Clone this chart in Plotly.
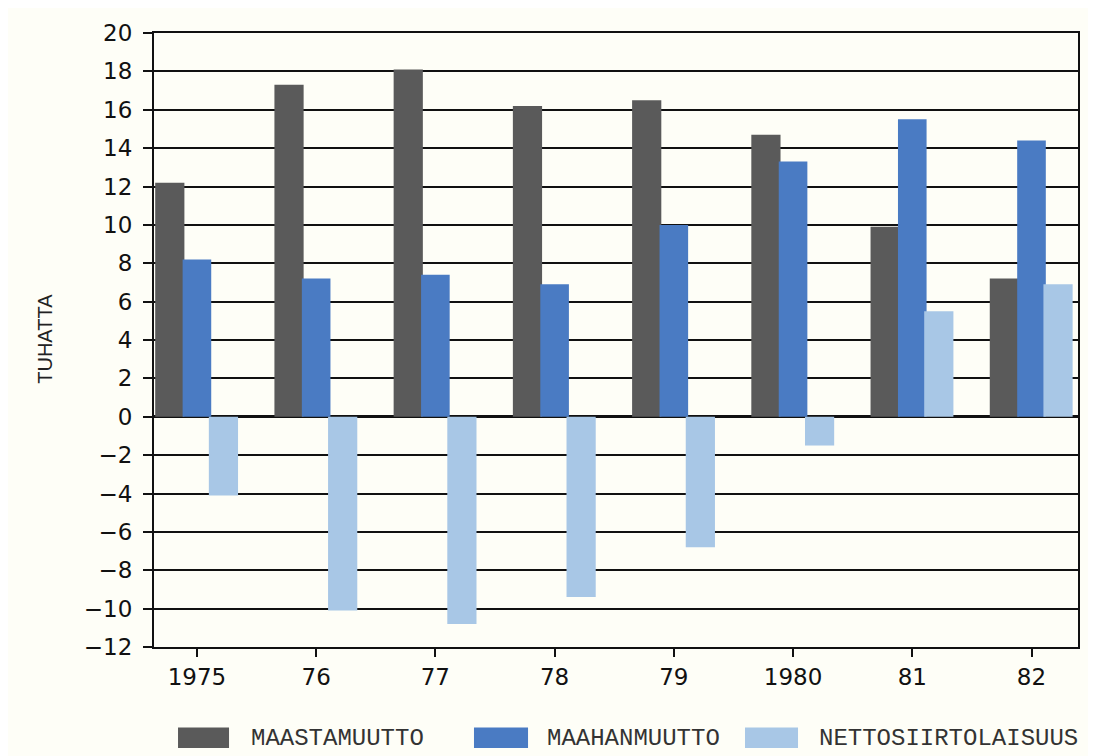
import plotly.graph_objects as go

years = ["1975", "76", "77", "78", "79", "1980", "81", "82"]
maastamuutto = [12.2, 17.3, 18.1, 16.2, 16.5, 14.7, 9.9, 7.2]
maahanmuutto = [8.2, 7.2, 7.4, 6.9, 10.0, 13.3, 15.5, 14.4]
netto = [-4.1, -10.1, -10.8, -9.4, -6.8, -1.5, 5.5, 6.9]
series_names = ["MAASTAMUUTTO", "MAAHANMUUTTO", "NETTOSIIRTOLAISUUS"]
colors = ["#5a5a5a", "#4a7bc3", "#a8c7e6"]

xpos = list(range(len(years)))
offsets = [-0.35, -0.12, 0.1]
widths = [0.245, 0.24, 0.245]
values = [maastamuutto, maahanmuutto, netto]

fig = go.Figure()
for name, vals, col, off, w in zip(series_names, values, colors, offsets, widths):
    fig.add_trace(go.Bar(
        x=xpos, y=vals, name=name, marker=dict(color=col, line=dict(width=0)),
        offset=off, width=w, showlegend=False,
    ))

bg = "#fefef7"
fig.update_layout(
    width=1088, height=748,
    margin=dict(l=146, r=18, t=13, b=109),
    paper_bgcolor=bg, plot_bgcolor=bg,
    barmode="overlay",
    font=dict(family="DejaVu Sans", color="#111111"),
)
fig.update_xaxes(
    range=[-0.36, 7.39], tickvals=xpos, ticktext=years,
    showgrid=False, zeroline=False,
    showline=True, linecolor="#111111", linewidth=2, mirror=True,
    ticks="outside", ticklen=8, tickwidth=2, tickcolor="#111111",
    tickfont=dict(family="DejaVu Sans", size=23, color="#111111"),
)
fig.update_yaxes(
    range=[-12, 20], tickvals=list(range(-12, 21, 2)),
    showgrid=True, gridcolor="#111111", gridwidth=2,
    zeroline=True, zerolinecolor="#111111", zerolinewidth=3,
    showline=True, linecolor="#111111", linewidth=2, mirror=True,
    ticks="outside", ticklen=9, tickwidth=2, tickcolor="#111111",
    tickfont=dict(family="DejaVu Sans", size=23, color="#111111"),
    ticklabelstandoff=6,
)

fig.add_annotation(
    text="TUHATTA", xref="paper", yref="paper", x=0, y=0.502,
    xshift=-109, xanchor="center", yanchor="middle", textangle=-90, showarrow=False,
    font=dict(family="Liberation Sans", size=20, color="#222222"),
)

# Manual legend
legend_items = [
    (0.026, 0.0812, 0.1028),
    (0.3463, 0.4048, 0.4232),
    (0.6396, 0.697, 0.7175),
]
for (x0, x1, xt), name, col in zip(legend_items, series_names, colors):
    fig.add_shape(type="rect", xref="paper", yref="paper",
                  x0=x0, x1=x1, y0=-0.1645, y1=-0.131,
                  fillcolor=col, line=dict(width=0))
    fig.add_annotation(text=name, xref="paper", yref="paper", x=xt, y=-0.1486,
                       xanchor="left", yanchor="middle", showarrow=False,
                       font=dict(family="Liberation Mono", size=24, color="#333333"))

fig.write_html("out.html")
